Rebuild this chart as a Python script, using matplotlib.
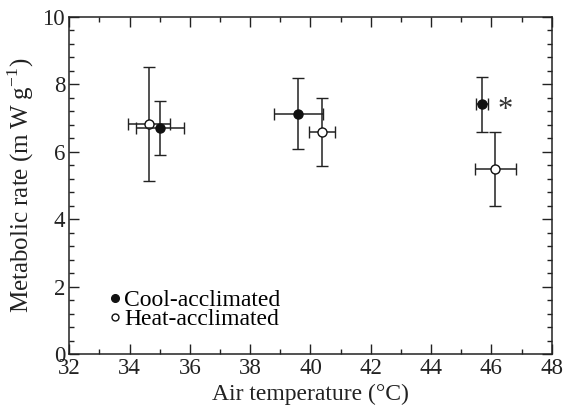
import matplotlib
matplotlib.use('Agg')
import matplotlib.pyplot as plt
from matplotlib.lines import Line2D
from matplotlib.ticker import MultipleLocator
import numpy as np


# values
cool_temp = [35.0, 39.6, 45.7]
cool_temp_err = [0.8, 0.8, 0.2]
cool_rate = [6.7, 7.13, 7.4]
cool_rate_err = [0.8, 1.06, 0.81]

heat_temp = [34.65, 40.38, 46.13]
heat_temp_err = [0.7, 0.43, 0.69]
heat_rate = [6.82, 6.58, 5.48]
heat_rate_err = [1.7, 1.0, 1.1]

# significance mark next to the 46 degree cool point
star_pos = (46.45, 7.38)

plt.rcParams['font.family'] = ['Liberation Serif', 'DejaVu Serif']
plt.rcParams['mathtext.fontset'] = 'custom'
plt.rcParams['mathtext.rm'] = 'Liberation Serif'

fig = plt.figure(figsize=(5.63, 4.17), dpi=100)
ax = fig.add_axes([69.3/563, 1 - 354.3/417, (551.7-69.3)/563, (354.3-16.7)/417])

err_style = dict(ecolor='#222222', elinewidth=1.1, capsize=4, capthick=1.1,
                 ls='none', markersize=6.5, markeredgewidth=1.0)

ax.errorbar(heat_temp, heat_rate, xerr=heat_temp_err, yerr=heat_rate_err,
            marker='o', mfc='white', mec='#111111', zorder=3, **err_style)
ax.errorbar(cool_temp, cool_rate, xerr=cool_temp_err, yerr=cool_rate_err,
            marker='o', mfc='#111111', mec='#111111', zorder=4, **err_style)

ax.annotate('*', xy=star_pos, xytext=(0, -5), textcoords='offset pixels',
            fontsize=22, ha='center', va='center', color='#333333')

ax.set_xlim(32, 48)
ax.set_ylim(0, 10)
ax.xaxis.set_major_locator(MultipleLocator(2))
ax.xaxis.set_minor_locator(MultipleLocator(1))
ax.yaxis.set_major_locator(MultipleLocator(2))
ax.yaxis.set_minor_locator(MultipleLocator(0.4))
ax.tick_params(which='both', direction='in', top=True, right=True,
               width=1.0, colors='#222222', labelcolor='#222222', labelsize=16.5)
ax.tick_params(which='major', length=7, pad=3)
ax.tick_params(which='minor', length=3.5)
for s in ax.spines.values():
    s.set_linewidth(1.1)
    s.set_color('#222222')

ax.set_xlabel('Air temperature (°C)', fontsize=17, color='#222222', labelpad=3)
ax.set_ylabel('Metabolic rate (m\u2009W g$^{\\mathrm{-1}}$)', fontsize=18,
              color='#222222', labelpad=5)

handles = [Line2D([], [], marker='o', ls='none', mfc='#111111', mec='#111111', markersize=5.5),
           Line2D([], [], marker='o', ls='none', mfc='white', mec='#111111', markersize=5)]
ax.legend(handles, ['Cool-acclimated', 'Heat-acclimated'], loc='lower left',
          bbox_to_anchor=(0.06, 0.037), frameon=False, fontsize=17,
          handlelength=0.4, handletextpad=0.2, labelspacing=-0.1, borderpad=0)

fig.savefig('out.png', dpi=100)
